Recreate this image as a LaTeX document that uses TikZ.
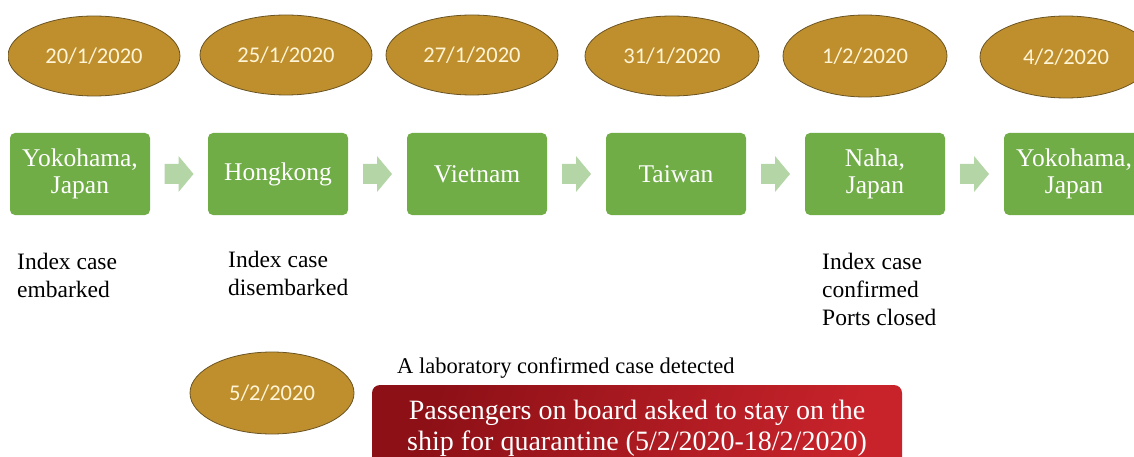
\documentclass[tikz,border=0pt]{standalone}
\usepackage{fontspec}
\setmainfont{Liberation Serif}
\newfontfamily\datefont{Carlito}
\usetikzlibrary{shapes.geometric,calc}
\definecolor{goldfill}{HTML}{BF8F2E}
\definecolor{golddraw}{HTML}{6B5423}
\definecolor{datetext}{HTML}{FFF5D6}
\definecolor{boxgreen}{HTML}{70AD47}
\definecolor{arrowgreen}{HTML}{B4D5A6}
\definecolor{reddark}{HTML}{8C1016}
\definecolor{redlight}{HTML}{C8232B}
\tikzset{
  dateell/.style={ellipse, draw=golddraw, line width=0.8pt, fill=goldfill, inner sep=0pt,
    minimum width=172pt, minimum height=80pt, text=datetext,
    font=\datefont\fontsize{22.5}{26}\selectfont},
  placebox/.style={rectangle, rounded corners=5pt, fill=boxgreen, inner sep=0pt,
    minimum width=140pt, minimum height=82pt, text=white, align=center,
    font=\fontsize{25.5}{26.5}\selectfont},
  note/.style={anchor=north west, inner sep=0pt, align=left,
    font=\fontsize{23.5}{28}\selectfont, text=black},
  blockarrow/.style={fill=arrowgreen}
}
\begin{document}
\begin{tikzpicture}[x=1pt,y=-1pt]
\useasboundingbox (0,0) rectangle (1134,457);
\begin{scope}
\clip (8,0) rectangle (1134,457);
\node[dateell] (d1) at (94,56) {20/1/2020};
\node[dateell] (d2) at (286,55) {25/1/2020};
\node[dateell] (d3) at (472,55) {27/1/2020};
\node[dateell, minimum width=174pt] (d4) at (672,56) {31/1/2020};
\node[dateell, minimum width=164pt, minimum height=82pt] (d5) at (865,56) {1/2/2020};
\node[dateell, minimum width=172pt, minimum height=82pt] (d6) at (1066,57) {4/2/2020};
\node[placebox] (b1) at (80,174) {Yokohama,\\Japan};
\node[placebox] (b2) at (278,174) {Hongkong};
\node[placebox] (b3) at (477,174) {Vietnam};
\node[placebox] (b4) at (676,174) {Taiwan};
\node[placebox] (b5) at (875,174) {Naha,\\Japan};
\node[placebox] (b6) at (1074,174) {Yokohama,\\Japan};
\foreach \a/\b in {b1/b2,b2/b3,b3/b4,b4/b5,b5/b6}{
  \path (\a.east) -- (\b.west) coordinate[pos=0.5] (m-\a);
  \fill[blockarrow] ($(m-\a)+(-14.5,-10)$) -- ++(14,0) -- ++(0,-8) -- ++(15,18)
     -- ++(-15,18) -- ++(0,-8) -- ++(-14,0) -- cycle;
}
\node[note] (n1) at (17,253) {Index case\\embarked};
\node[note] (n2) at (228,251) {Index case\\disembarked};
\node[note] (n3) at (822,253) {Index case\\confirmed\\Ports closed};
\node[dateell, minimum width=164pt, minimum height=82pt] (d7) at (272,393) {5/2/2020};
\node[anchor=west, inner sep=0pt, font=\fontsize{22.5}{26}\selectfont] (lab) at (397,368)
  {A laboratory confirmed case detected};
\node[rectangle, rounded corners=8pt, left color=reddark, right color=redlight,
  shading angle=70, minimum width=530pt, minimum height=86pt, inner sep=0pt,
  text=white, align=center, font=\fontsize{28}{31}\selectfont] (q) at (637,428)
  {Passengers on board asked to stay on the\\ship for quarantine (5/2/2020-18/2/2020)};
\end{scope}
\end{tikzpicture}
\end{document}
